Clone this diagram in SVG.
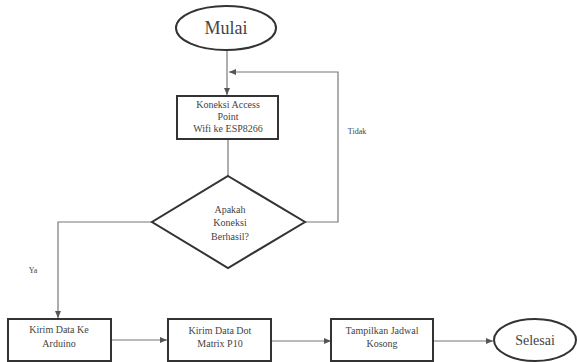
<svg xmlns="http://www.w3.org/2000/svg" width="577" height="362" viewBox="0 0 577 362">
<defs>
<marker id="ah" markerWidth="8" markerHeight="8" refX="7" refY="4" orient="auto" markerUnits="userSpaceOnUse">
<path d="M0,1 L7,4 L0,7 Z" fill="#555"/>
</marker>
<style>
.sh{fill:#fff;stroke:#333;stroke-width:2}
text{font-family:"Liberation Serif","Times New Roman","DejaVu Serif","Noto Serif",serif;fill:#444;text-anchor:middle}
.s{font-size:10px}
.c{fill:none;stroke:#777;stroke-width:1.2}
</style>
</defs>
<rect width="577" height="362" fill="#fff"/>
<g id="connectors">
<line class="c" x1="227" y1="50" x2="227" y2="95" marker-end="url(#ah)"/>
<polyline class="c" points="305,222 338,222 338,72 229,72" marker-end="url(#ah)"/>
<line class="c" x1="228" y1="139" x2="228" y2="176"/>
<polyline class="c" points="152,222 58,222 58,318" marker-end="url(#ah)"/>
<line class="c" x1="111" y1="340" x2="167" y2="340" marker-end="url(#ah)"/>
<line class="c" x1="271" y1="341" x2="331" y2="341" marker-end="url(#ah)"/>
<line class="c" x1="433" y1="341" x2="493" y2="341" marker-end="url(#ah)"/>
<text x="357" y="134" font-size="8">Tidak</text>
<text x="33" y="273" font-size="8">Ya</text>
</g>
<g id="mulai">
<ellipse class="sh" cx="226" cy="28" rx="50" ry="22"/>
<text x="226" y="34" font-size="18">Mulai</text>
</g>
<g id="koneksi">
<rect class="sh" x="177" y="96" width="101" height="43"/>
<text class="s" x="228" y="108">Koneksi Access</text>
<text class="s" x="228" y="120">Point</text>
<text class="s" x="228" y="132">Wifi ke ESP8266</text>
</g>
<g id="apakah">
<polygon class="sh" points="228,176 305,222 228,268 152,222"/>
<text class="s" x="230" y="213">Apakah</text>
<text class="s" x="230" y="226">Koneksi</text>
<text class="s" x="230" y="240">Berhasil?</text>
</g>
<g id="kirim-arduino">
<rect class="sh" x="8" y="319" width="103" height="42"/>
<text class="s" x="59" y="333">Kirim Data Ke</text>
<text class="s" x="59" y="347">Arduino</text>
</g>
<g id="kirim-dot">
<rect class="sh" x="168" y="319" width="103" height="42"/>
<text class="s" x="220" y="334">Kirim Data Dot</text>
<text class="s" x="220" y="347">Matrix P10</text>
</g>
<g id="tampilkan">
<rect class="sh" x="331" y="319" width="102" height="42"/>
<text class="s" x="382" y="334">Tampilkan Jadwal</text>
<text class="s" x="382" y="347">Kosong</text>
</g>
<g id="selesai">
<ellipse class="sh" cx="535" cy="340" rx="41" ry="21"/>
<text x="535" y="345" font-size="14">Selesai</text>
</g>
</svg>
